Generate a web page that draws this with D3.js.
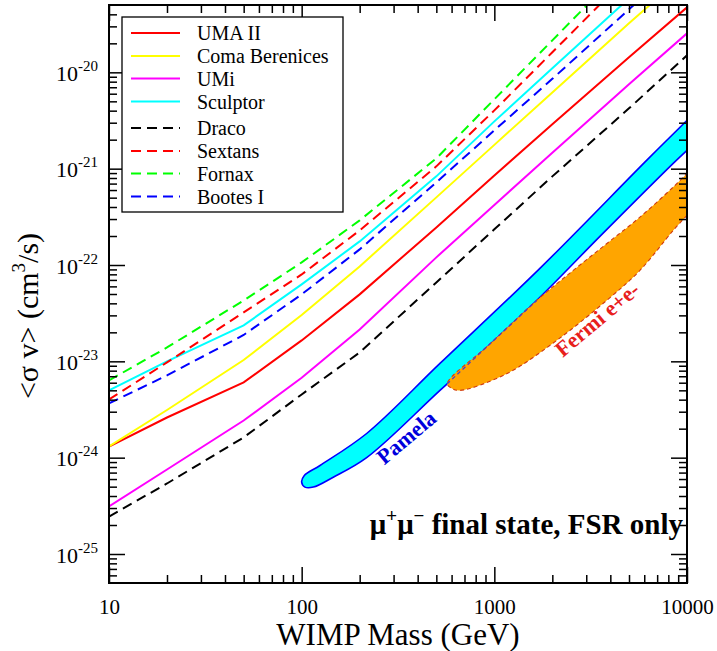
<!DOCTYPE html>
<html><head><meta charset="utf-8">
<script src="https://cdn.jsdelivr.net/npm/d3@7"></script>
<style>
body{margin:0;background:#fff}
text{font-family:"Liberation Serif","Times New Roman",serif}
</style>
</head><body>
<svg id="c" width="717" height="651"></svg>
<script>
// ---------- data (WIMP mass in GeV, <sigma v> in cm^3/s) ----------
const masses = [10, 20, 50, 100, 200, 500, 1000, 2000, 5000, 10000];

const umaII    = [1.306e-24, 2.612e-24, 6.04e-24, 1.648e-23, 4.955e-23, 2.455e-22, 8.51e-22, 2.884e-21, 1.432e-20, 4.73e-20];
const comaBer  = [1.306e-24, 3.126e-24, 1.033e-23, 3.027e-23, 9.66e-23, 5.035e-22, 1.766e-21, 6.19e-21, 3.228e-20, 1.092e-19];
const umi      = [3.112e-25, 7.54e-25, 2.432e-24, 6.745e-24, 2.143e-23, 1.2e-22, 4.207e-22, 1.459e-21, 7.5e-21, 2.54e-20];
const sculptor = [4.989e-24, 9.98e-24, 2.36e-23, 6.295e-23, 1.758e-22, 8.318e-22, 3.097e-21, 1.101e-20, 5.86e-20, 1.94e-19];
const draco    = [2.449e-25, 5.395e-25, 1.622e-24, 4.53e-24, 1.236e-23, 6.59e-23, 2.344e-22, 8.318e-22, 4.227e-21, 1.501e-20];
const sextans  = [4.018e-24, 9.75e-24, 3.221e-23, 7.98e-23, 2.286e-22, 1.057e-21, 4.027e-21, 1.614e-20, 1.016e-19, 3.97e-19];
const fornax   = [6.339e-24, 1.393e-23, 4.285e-23, 1.064e-22, 2.904e-22, 1.279e-21, 5.248e-21, 2.148e-20, 1.387e-19, 5.5e-19];
const bootesI  = [3.656e-24, 7.145e-24, 1.879e-23, 4.955e-23, 1.452e-22, 7.21e-22, 2.5e-21, 8.56e-21, 4.508e-20, 1.563e-19];

const seriesNames  = ["UMA II", "Coma Berenices", "UMi", "Sculptor", "Draco", "Sextans", "Fornax", "Bootes I"];
const seriesValues = [umaII, comaBer, umi, sculptor, draco, sextans, fornax, bootesI];
const seriesColors = ["#ff0000", "#ffff00", "#ff00ff", "#00ffff", "#000000", "#ff0000", "#00ff00", "#0000ff"];
const seriesDashed = [false, false, false, false, true, true, true, true];

// PAMELA region boundaries (tip at 100 GeV)
const pamelaUpperM = [100, 103, 124.5, 217.4, 522.1, 1724, 6170, 10000];
const pamelaUpperV = [5.57e-25, 6.5e-25, 8.3e-25, 1.782e-24, 9.51e-24, 9.23e-23, 1.219e-21, 3.177e-21];
const pamelaLowerM = [100, 104, 115, 145.9, 217.4, 522.1, 1658, 3532, 8481, 10000];
const pamelaLowerV = [5.57e-25, 4.95e-25, 4.95e-25, 6.27e-25, 1.0e-24, 4.989e-24, 4.285e-23, 1.982e-22, 1.135e-21, 1.549e-21];

// Fermi e+e- region boundaries (tip at ~570 GeV)
const fermiUpperM = [569.6, 949, 1658, 2567, 3826, 5697, 8481, 10000];
const fermiUpperV = [5.85e-24, 1.517e-23, 4.285e-23, 8.79e-23, 1.663e-22, 3.14e-22, 6.44e-22, 8.93e-22];
const fermiLowerM = [569.6, 602.6, 662.9, 1158, 2105, 3826, 5697, 8481, 10000];
const fermiLowerV = [5.85e-24, 5.23e-24, 4.989e-24, 7.43e-24, 1.648e-23, 4.285e-23, 8.79e-23, 2.286e-22, 3.273e-22];

const xMajor = [10, 100, 1000, 10000];
const xMajorLabels = ["10", "100", "1000", "10000"];
const yMajorExp = [-25, -24, -23, -22, -21, -20];

// ---------- layout ----------
const svg = d3.select("#c");
const L = 109, R = 687, T = 5, B = 583;
const x = d3.scaleLog().domain([10, 10000]).range([L, R]);
const y = d3.scaleLog().domain([5e-26, 5e-20]).range([B, T]);

svg.append("defs").append("clipPath").attr("id", "plot")
  .append("rect").attr("x", L).attr("y", T).attr("width", R - L).attr("height", B - T);

const g = svg.append("g").attr("clip-path", "url(#plot)");

const zip = (ms, vs) => ms.map((m, i) => [m, vs[i]]);
const pamUp = zip(pamelaUpperM, pamelaUpperV);
const pamLo = zip(pamelaLowerM, pamelaLowerV);
const ferUp = zip(fermiUpperM, fermiUpperV);
const ferLo = zip(fermiLowerM, fermiLowerV);

const smooth = d3.line().x(d => x(d[0])).y(d => y(d[1])).curve(d3.curveCatmullRom.alpha(0.5));
// ring: lower boundary from right edge back to tip, then upper boundary out to right edge
const ring = (up, lo) => smooth(lo.slice().reverse().concat(up.slice(1))) + "Z";

g.append("path").attr("d", ring(pamUp, pamLo))
  .attr("fill", "#00ffff").attr("stroke", "#0000ff").attr("stroke-width", 1.6);

g.append("path").attr("d", ring(ferUp, ferLo))
  .attr("fill", "#ffa500").attr("stroke", "#d03a10").attr("stroke-width", 1.1)
  .attr("stroke-dasharray", "4,3");
// overlap edge (Pamela lower boundary crossing the Fermi region)
g.append("path").attr("d", smooth(ferUp.slice(0, 3)))
  .attr("fill", "none").attr("stroke", "#4a3cc8").attr("stroke-width", 1.3)
  .attr("stroke-dasharray", "4,3");

// limit curves
const curve = d3.line().x(d => x(d[0])).y(d => y(d[1]));
seriesValues.forEach((vals, i) => {
  g.append("path").attr("d", curve(zip(masses, vals)))
    .attr("fill", "none").attr("stroke", seriesColors[i]).attr("stroke-width", 2)
    .attr("stroke-dasharray", seriesDashed[i] ? "10,6" : null);
});

// ---------- axes ----------
function minorTicks(lo, hi) {
  const out = [];
  for (let e = Math.floor(Math.log10(lo)); e <= Math.ceil(Math.log10(hi)); e++)
    for (let k = 2; k <= 9; k++) { const v = k * Math.pow(10, e); if (v > lo * 1.0001 && v < hi * 0.9999) out.push(v); }
  return out;
}
const xMinor = minorTicks(10, 10000);
const yMinor = minorTicks(5e-26, 5e-20);
const yMajor = yMajorExp.map(e => Math.pow(10, e));

function styleAxis(sel) {
  sel.select(".domain").remove();
  sel.selectAll("line").attr("stroke", "#000").attr("stroke-width", 1.5);
  sel.selectAll("text").attr("font-size", 21).attr("font-family", "Liberation Serif, serif").attr("fill", "#000");
}
function noLabels(sel) { styleAxis(sel); sel.selectAll("text").remove(); }

svg.append("g").attr("transform", `translate(0,${B})`)
  .call(d3.axisBottom(x).tickValues(xMajor).tickSize(-16).tickPadding(16).tickFormat((d, i) => xMajorLabels[i]))
  .call(styleAxis);
svg.append("g").attr("transform", `translate(0,${B})`)
  .call(d3.axisBottom(x).tickValues(xMinor).tickSize(-8)).call(noLabels);
svg.append("g").attr("transform", `translate(0,${T})`)
  .call(d3.axisTop(x).tickValues(xMajor).tickSize(-16)).call(noLabels);
svg.append("g").attr("transform", `translate(0,${T})`)
  .call(d3.axisTop(x).tickValues(xMinor).tickSize(-8)).call(noLabels);

const yl = svg.append("g").attr("transform", `translate(${L},0)`)
  .call(d3.axisLeft(y).tickValues(yMajor).tickSize(-16)).call(noLabels);
svg.append("g").attr("transform", `translate(${L},0)`)
  .call(d3.axisLeft(y).tickValues(yMinor).tickSize(-8)).call(noLabels);
svg.append("g").attr("transform", `translate(${R},0)`)
  .call(d3.axisRight(y).tickValues(yMajor).tickSize(-16)).call(noLabels);
svg.append("g").attr("transform", `translate(${R},0)`)
  .call(d3.axisRight(y).tickValues(yMinor).tickSize(-8)).call(noLabels);

// y tick labels with superscripts
yl.selectAll(".tick").each(function(d, i) {
  const t = d3.select(this).append("text").attr("x", -11).attr("y", 8)
    .attr("text-anchor", "end").attr("fill", "#000").attr("font-size", 22);
  t.append("tspan").text("10");
  t.append("tspan").attr("font-size", 15).attr("dy", -10).text("-" + Math.abs(yMajorExp[i]));
});

// frame
svg.append("rect").attr("x", L).attr("y", T).attr("width", R - L).attr("height", B - T)
  .attr("fill", "none").attr("stroke", "#000").attr("stroke-width", 2);

// axis titles
svg.append("text").attr("x", (L + R) / 2).attr("y", 645).attr("text-anchor", "middle")
  .attr("font-size", 31).text("WIMP Mass (GeV)");
const yt = svg.append("text").attr("transform", "translate(38,316) rotate(-90)")
  .attr("text-anchor", "middle").attr("font-size", 30);
yt.append("tspan").text("<σ v> (cm");
yt.append("tspan").attr("font-size", 19).attr("dy", -13).text("3");
yt.append("tspan").attr("dy", 13).text("/s)");

// annotations
svg.append("text").attr("transform", "translate(411,443) rotate(-40)").attr("text-anchor", "middle")
  .attr("font-size", 22).attr("font-weight", "bold").attr("fill", "#0000dd").text("Pamela");
svg.append("text").attr("transform", "translate(602,325) rotate(-40)").attr("text-anchor", "middle")
  .attr("font-size", 22).attr("font-weight", "bold").attr("fill", "#e8201c").text("Fermi e+e-");
const fs = svg.append("text").attr("x", 683).attr("y", 534).attr("text-anchor", "end")
  .attr("font-size", 29).attr("font-weight", "bold");
fs.append("tspan").text("μ");
fs.append("tspan").attr("font-size", 19).attr("dy", -12).text("+");
fs.append("tspan").attr("dy", 12).text("μ");
fs.append("tspan").attr("font-size", 19).attr("dy", -12).text("−");
fs.append("tspan").attr("dy", 12).text(" final state, FSR only");

// legend
const lg = svg.append("g");
lg.append("rect").attr("x", 122).attr("y", 17).attr("width", 221).attr("height", 195)
  .attr("fill", "#fff").attr("stroke", "#000").attr("stroke-width", 1.3);
const rowY = [33, 56, 78.5, 101.5, 128, 151, 173.5, 196.5];
seriesNames.forEach((n, i) => {
  lg.append("line").attr("x1", 131).attr("x2", 180).attr("y1", rowY[i]).attr("y2", rowY[i])
    .attr("stroke", seriesColors[i]).attr("stroke-width", 2)
    .attr("stroke-dasharray", seriesDashed[i] ? "10,6" : null);
  lg.append("text").attr("x", 197).attr("y", rowY[i] + 7).attr("font-size", 20).text(n);
});
</script>
</body></html>
